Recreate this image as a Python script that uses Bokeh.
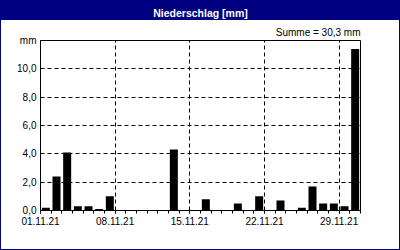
from bokeh.plotting import figure
from bokeh.models import Range1d, FixedTicker, Title
from bokeh.embed import file_html
from bokeh.resources import INLINE

days = list(range(1, 31))
precip = [0.2, 2.4, 4.1, 0.3, 0.3, 0.1, 1.0, 0, 0, 0,
          0, 0, 4.3, 0, 0, 0.8, 0, 0, 0.5, 0,
          1.0, 0, 0.7, 0, 0.2, 1.7, 0.5, 0.5, 0.3, 11.4]
x_tick_pos = [0, 7, 14, 21, 28]
x_tick_labels = ["01.11.21", "08.11.21", "15.11.21", "22.11.21", "29.11.21"]
y_tick_pos = [0, 2, 4, 6, 8, 10, 12]
y_tick_labels = ["0,0", "2,0", "4,0", "6,0", "8,0", "10,0", "mm"]
title_text = "Niederschlag [mm]"
sum_text = "Summe = 30,3 mm"

FONT = "Liberation Sans"
NAVY = "#000080"

p = figure(frame_width=320, frame_height=170, width=400, height=250,
           x_range=Range1d(0, 30), y_range=Range1d(0, 12),
           output_backend="svg", toolbar_location=None,
           min_border_left=40, min_border_right=40, min_border_bottom=40, min_border_top=40,
           title=title_text)
p.title.align = "center"
p.title.text_font = FONT
p.title.text_font_size = "10.5px"
p.title.text_font_style = "bold"
p.title.text_color = "white"
p.title.offset = 0
p.title.standoff = 8

t = Title(text=sum_text, align="right", text_font=FONT, text_font_size="10px",
          text_font_style="normal", text_color="black", standoff=5, offset=0)
p.add_layout(t, "above")

p.border_fill_alpha = 0
p.background_fill_color = "white"
p.outline_line_color = "black"
p.outline_line_width = 1
p.styles = {"background": f"linear-gradient({NAVY} 0px, {NAVY} 20px, #ffffff 20px)",
            "box-shadow": f"inset 0 0 0 1px {NAVY}"}

xs = [d - 0.5 for d in days]
p.vbar(x=xs, top=precip, width=0.75, fill_color="black", line_color=None)

xa = p.xaxis[0]
xa.ticker = FixedTicker(ticks=x_tick_pos, minor_ticks=list(range(31)))
xa.major_label_overrides = dict(zip(x_tick_pos, x_tick_labels))
xa.major_tick_in = 0
xa.major_tick_out = 3
xa.minor_tick_in = 0
xa.minor_tick_out = 3
xa.major_label_standoff = 3
xa.major_label_text_font = FONT
xa.major_label_text_font_size = "10px"
xa.major_label_text_color = "black"
xa.axis_line_color = "black"

ya = p.yaxis[0]
ya.ticker = FixedTicker(ticks=y_tick_pos)
ya.major_label_overrides = dict(zip(y_tick_pos, y_tick_labels))
ya.major_tick_in = 0
ya.major_tick_out = 0
ya.minor_tick_line_color = None
ya.major_label_standoff = 4
ya.major_label_text_font = FONT
ya.major_label_text_font_size = "10px"
ya.major_label_text_color = "black"
ya.axis_line_color = "black"

p.xgrid.ticker = FixedTicker(ticks=x_tick_pos)
p.ygrid.ticker = FixedTicker(ticks=y_tick_pos)
for g in (p.xgrid, p.ygrid):
    g.grid_line_color = "black"
    g.grid_line_dash = "4 3"
    g.grid_line_width = 1

open("out.html", "w").write(file_html(p, INLINE))
